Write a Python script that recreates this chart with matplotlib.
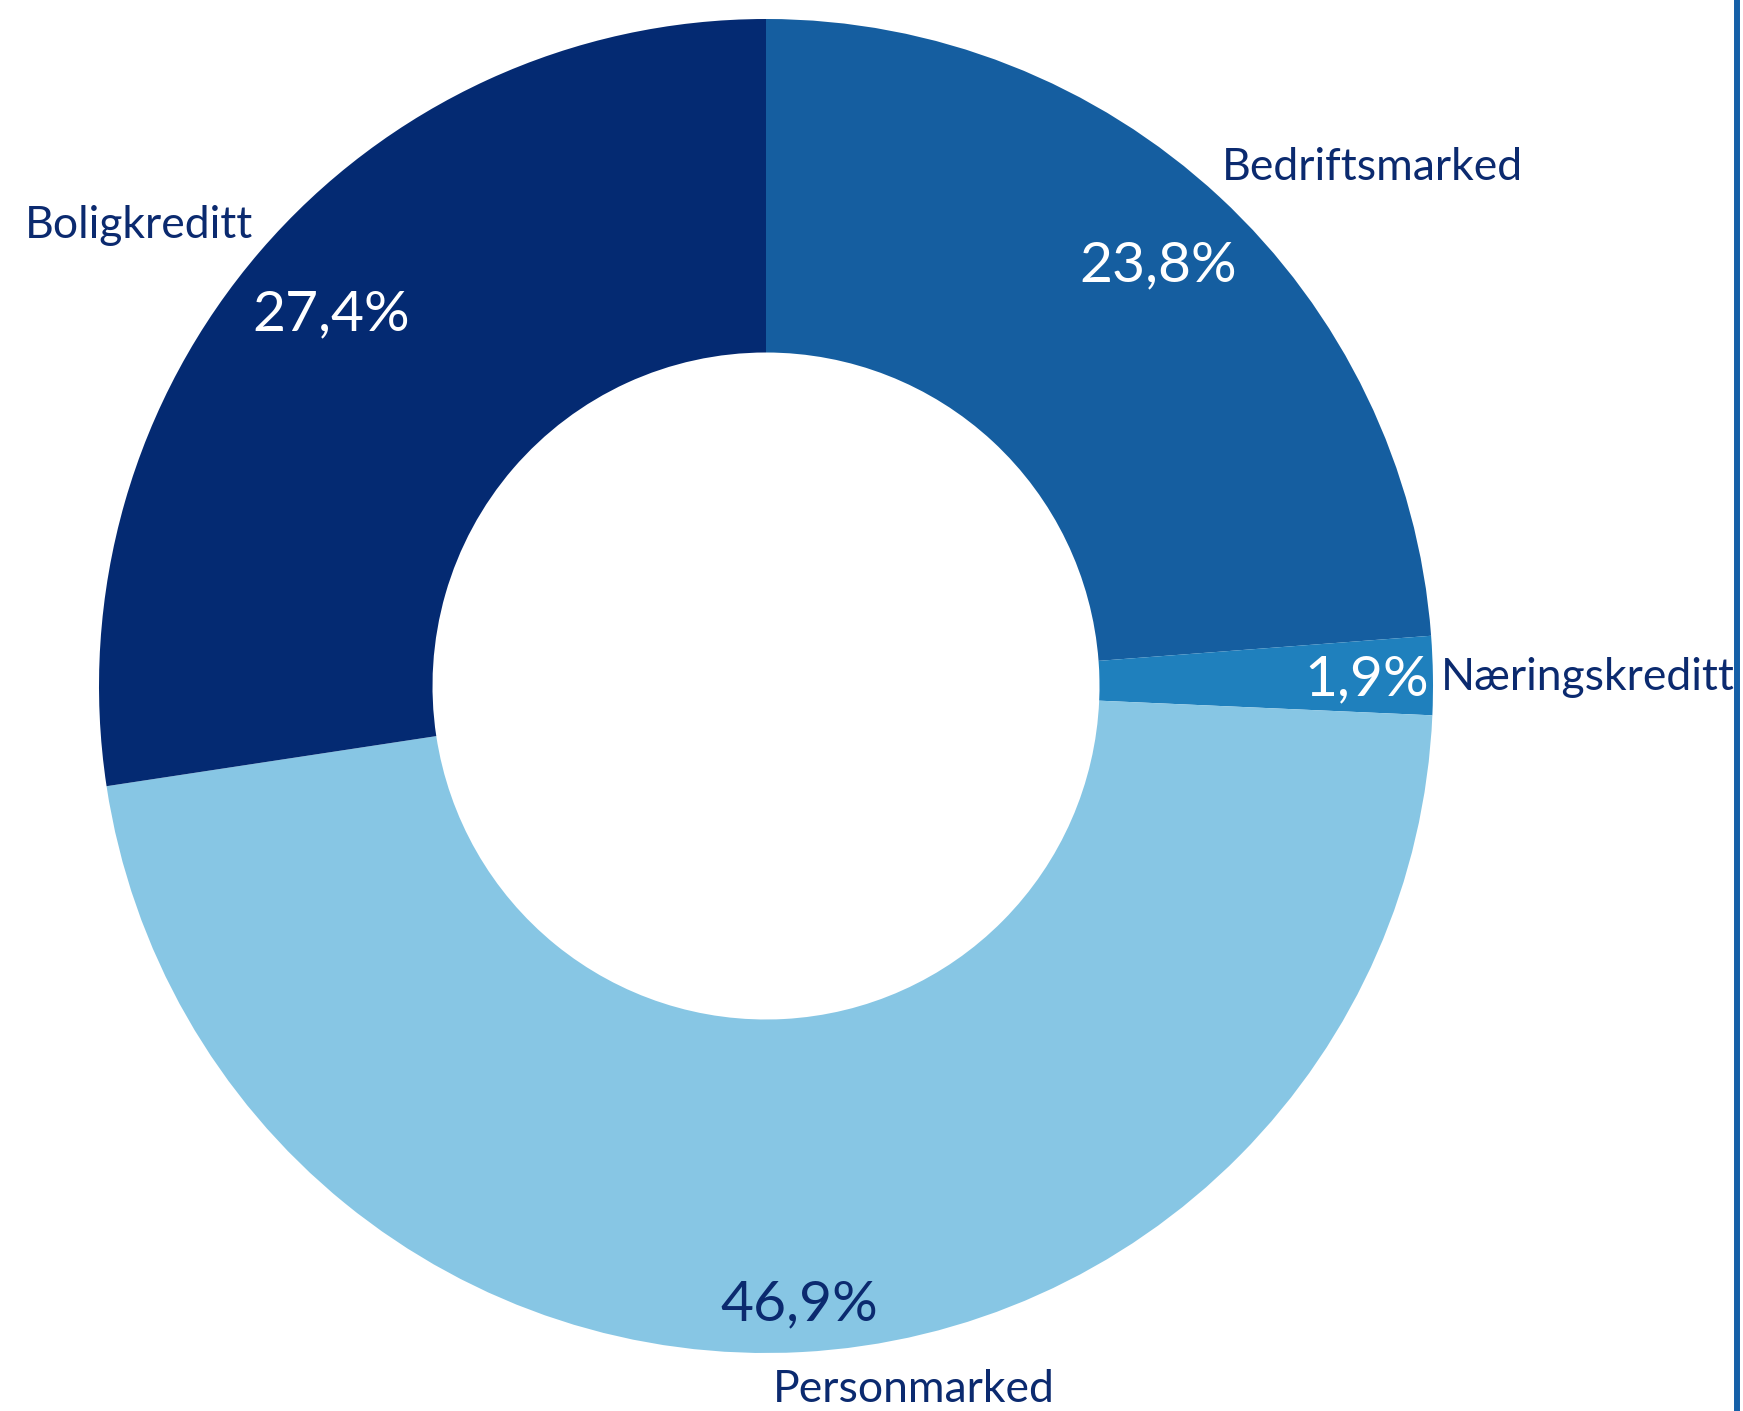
import numpy as np
import matplotlib
matplotlib.use("Agg")
import matplotlib.pyplot as plt

# data
segments = ["Bedriftsmarked", "Næringskreditt", "Personmarked", "Boligkreditt"]
shares = [23.8, 1.9, 46.9, 27.4]
pct_labels = ["23,8%", "1,9%", "46,9%", "27,4%"]

colors = ["#155EA0", "#1F80BD", "#87C6E4", "#042A72"]
pct_colors = ["white", "white", "#0B2A6F", "white"]
navy = "#0B2A6F"

W, H = 1743, 1411
cx, cy = 766, H - 686
R = 667

plt.rcParams["font.family"] = ["Lato", "DejaVu Sans"]

fig = plt.figure(figsize=(W / 100, H / 100), dpi=100)
ax = fig.add_axes([0, 0, 1, 1])

wedges, _ = ax.pie(shares, colors=colors, startangle=90, counterclock=False,
                   radius=R, center=(cx, cy),
                   wedgeprops=dict(width=R * 0.5, edgecolor="none"))
# pie resets the limits, so set pixel-like limits afterwards
ax.set_xlim(0, W)
ax.set_ylim(0, H)
ax.set_aspect("equal")
ax.axis("off")

# percentage labels inside the ring, near the outer edge
pct_r = [0.865, 0.90, 0.925, 0.86]
for w, lab, col, rf in zip(wedges, pct_labels, pct_colors, pct_r):
    ang = np.deg2rad((w.theta1 + w.theta2) / 2)
    ax.text(cx + rf * R * np.cos(ang), cy + rf * R * np.sin(ang) - 3, lab,
            ha="center", va="center", fontsize=41, color=col)

# category labels outside (offsets from centre, pixels)
name_pos = [(606, 518), (822, 8), (148, -704), (-627, 460)]
for name, (dx, dy) in zip(segments, name_pos):
    ax.text(cx + dx, cy + dy, name, ha="center", va="center",
            fontsize=32, color=navy)

ax.axvline(1737, color="#1560A8", lw=4.3)

fig.savefig("out.png", dpi=100)
